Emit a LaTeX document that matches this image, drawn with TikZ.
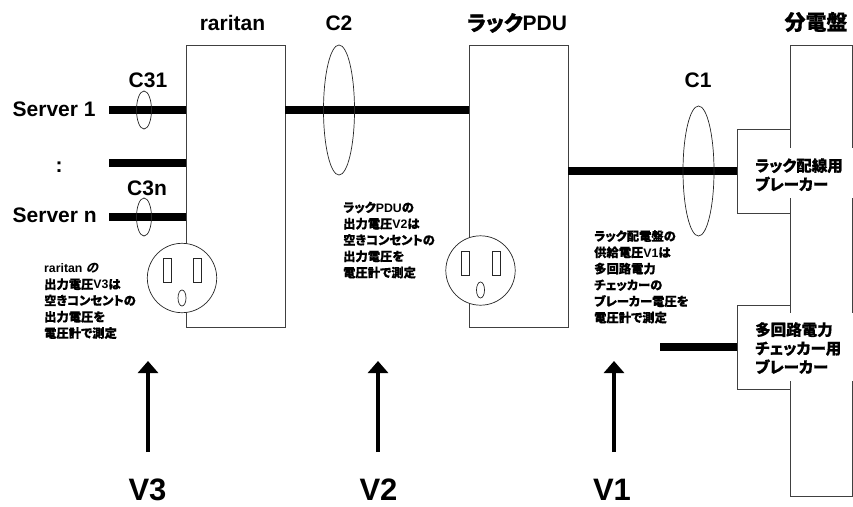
\documentclass[tikz,border=0pt]{standalone}
\usepackage{fontspec}
\setmainfont{Liberation Sans}
\newfontfamily\cjk[RawFeature=+palt,BoldFeatures={FakeBold=0.5}]{Noto Sans CJK JP}
\newfontfamily\cjkslant[FakeSlant=0.25]{Noto Sans CJK JP}
\newcommand{\J}[1]{{\cjk\bfseries #1}}
\newcommand{\SL}{\fontsize{21}{24}\selectfont\bfseries}
\newcommand{\SM}{\fontsize{12.3}{16.3}\selectfont\bfseries}
\newcommand{\SB}{\fontsize{15.5}{18.7}\selectfont\bfseries}
\usetikzlibrary{arrows.meta}
\tikzset{
  x=1pt,y=-1pt,
  boxn/.style={draw=black!75,fill=white,line width=.8pt,rectangle,inner sep=0pt,minimum width=#1},
  wire/.style={line width=8pt,black},
  clamp/.style={draw=black!85,line width=.7pt},
  socket/.style={draw=black!85,fill=white,line width=.7pt},
  head/.style={font=\SL,inner sep=0pt},
  vlabel/.style={font=\fontsize{31}{33}\selectfont\bfseries,inner sep=0pt},
  note/.style={font=\SM,align=left,anchor=north west,inner sep=0pt},
  brk/.style={font=\SB,align=left,anchor=north west,inner sep=0pt},
  measure/.style={line width=3.6pt,black,-{Triangle[length=12pt,width=20pt]}},
}
\begin{document}
\begin{tikzpicture}
\useasboundingbox (0,0) rectangle (853,506);
% boxes
\node[boxn=99pt,minimum height=282pt,anchor=north west] (rar) at (186,45) {};
\node[boxn=99pt,minimum height=282pt,anchor=north west] (pdu) at (469,45) {};
\node[boxn=62pt,minimum height=451pt,anchor=north west] (pan) at (790,45) {};
\node[boxn=53pt,minimum height=84pt,anchor=north west] (bk1) at (737,129) {};
\node[boxn=53pt,minimum height=84pt,anchor=north west] (bk2) at (737,305) {};
% white text backgrounds interrupting the panel edges
\fill[white] (745,148) rectangle (853,198);
\fill[white] (745,313) rectangle (853,381);
% wires
\coordinate (s1) at (109,110);
\coordinate (s2) at (109,163);
\coordinate (s3) at (109,217);
\coordinate (chk) at (660,347);
\draw[wire] (s1) -- (s1 -| rar.west);
\draw[wire] (s2) -- (s2 -| rar.west);
\draw[wire] (s3) -- (s3 -| rar.west);
\coordinate (m2) at (285,110);
\draw[wire] (m2) -- (m2 -| pdu.west);
\coordinate (m1) at (568,171);
\draw[wire] (m1) -- (m1 -| bk1.west);
\draw[wire] (chk) -- (chk -| bk2.west);
% clamps
\draw[clamp] (144,110) ellipse (7.5 and 19);
\draw[clamp] (144,217) ellipse (7.5 and 19);
\draw[clamp] (339,110) ellipse (15.5 and 65);
\draw[clamp] (698.5,171) ellipse (15.5 and 65);
% outlets
\draw[socket] (182,278) circle (34.7);
\draw[socket] (163.5,258) rectangle (171,282);
\draw[socket] (193.5,258) rectangle (201.5,282);
\draw[socket] (182,298) ellipse (4 and 8);
\draw[socket] (480.5,270.5) circle (34.7);
\draw[socket] (461.5,251) rectangle (469,275);
\draw[socket] (492,251) rectangle (500,275);
\draw[socket] (480.5,290) ellipse (4 and 8);
% head labels
\node[head] (trar) at (232.5,23) {raritan};
\node[head] (tpdu) at (517,23) {\J{ラック}PDU};
\node[head] (tpan) at (816,22) {\J{分電盤}};
\node[head] (tc2) at (339,23) {C2};
\node[head] (tc1) at (698,80) {C1};
\node[head] (tc31) at (148,80) {C31};
\node[head] (tc3n) at (147,188) {C3n};
\node[head,anchor=west] (ts1) at (12.5,109) {Server 1};
\node[head,anchor=west] (ts3) at (12.5,215) {Server n};
\node[head] (tdots) at (59,167) {:};
% notes
\node[note] (n3) at (44,263) {raritan {\cjkslant\bfseries の}\\\J{出力電圧}V3\J{は}\\\J{空きコンセントの}\\\J{出力電圧を}\\\J{電圧計で測定}};
\node[note] (n2) at (343,201.5) {\J{ラック}PDU\J{の}\\\J{出力電圧}V2\J{は}\\\J{空きコンセントの}\\\J{出力電圧を}\\\J{電圧計で測定}};
\node[note] (n1) at (594,230) {\J{ラック配電盤の}\\\J{供給電圧}V1\J{は}\\\J{多回路電力}\\\J{チェッカーの}\\\J{ブレーカー電圧を}\\\J{電圧計で測定}};
\node[brk] (b1) at (755,158) {\J{ラック配線用}\\\J{ブレーカー}};
\node[brk] (b2) at (755,322) {\J{多回路電力}\\\J{チェッカー用}\\\J{ブレーカー}};
% measurement arrows
\node[vlabel] (v3) at (147.5,489.5) {V3};
\node[vlabel] (v2) at (378.5,489.5) {V2};
\node[vlabel] (v1) at (612,489.5) {V1};
\coordinate (a3) at (148,361);
\coordinate (a2) at (378,361);
\coordinate (a1) at (614,361);
\coordinate (b3) at (148,452);
\coordinate (b2x) at (378,452);
\coordinate (b1x) at (614,452);
\draw[measure] (b3) -- (a3);
\draw[measure] (b2x) -- (a2);
\draw[measure] (b1x) -- (a1);
\end{tikzpicture}
\end{document}
